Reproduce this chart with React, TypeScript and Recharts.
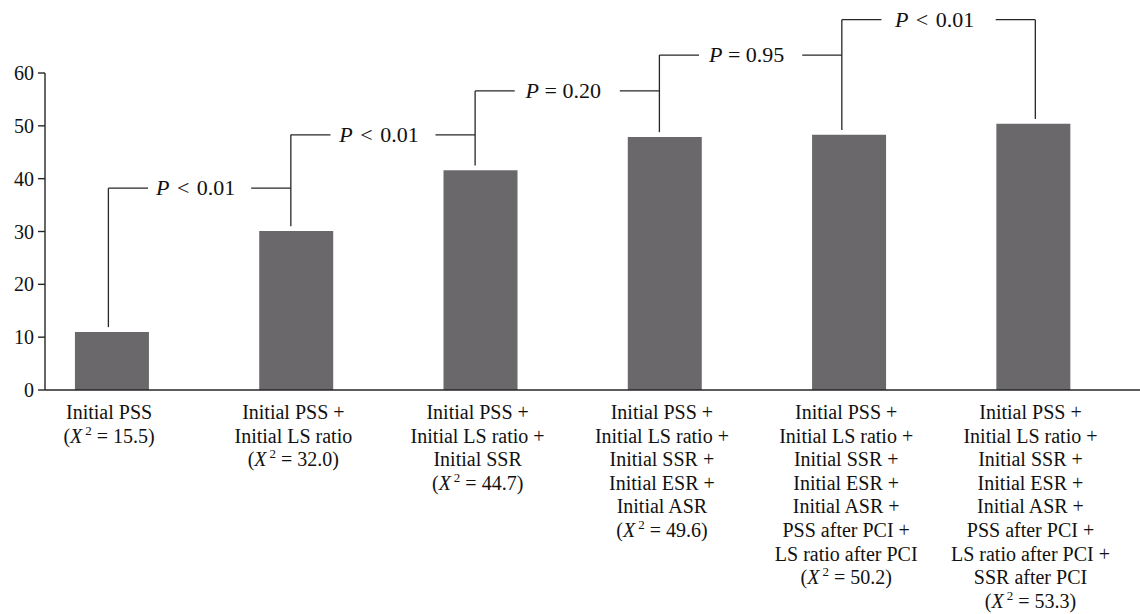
import React from "react";
import { ComposedChart, Bar, XAxis, YAxis, ReferenceLine, ReferenceDot } from "recharts";

const positions = [1, 2, 3, 4, 5, 6];
const values = [11.0, 30.1, 41.6, 47.9, 48.3, 50.4];
const chiSquares = ["15.5", "32.0", "44.7", "49.6", "50.2", "53.3"];
const categoryLines = [
  ["Initial PSS"],
  ["Initial PSS +", "Initial LS ratio"],
  ["Initial PSS +", "Initial LS ratio +", "Initial SSR"],
  ["Initial PSS +", "Initial LS ratio +", "Initial SSR +", "Initial ESR +", "Initial ASR"],
  ["Initial PSS +", "Initial LS ratio +", "Initial SSR +", "Initial ESR +", "Initial ASR +", "PSS after PCI +", "LS ratio after PCI"],
  ["Initial PSS +", "Initial LS ratio +", "Initial SSR +", "Initial ESR +", "Initial ASR +", "PSS after PCI +", "LS ratio after PCI +", "SSR after PCI"],
];
const yTicks = [0, 10, 20, 30, 40, 50, 60];
const bracketX = [0.98, 1.97, 2.97, 3.97, 4.96, 6.01];
const bracketLevels = [38.2, 48.3, 56.6, 63.4, 70.1];
const pOps = ["<", "<", "=", "=", "<"];
const pValues = ["0.01", "0.01", "0.20", "0.95", "0.01"];

const data = positions.map((x, i) => ({ x, value: values[i] }));

const FONT = '"Liberation Serif", "Times New Roman", Times, serif';
const LINE = "#262626";
const ARM = 0.215;
const GAP = 0.9;
const LH = 23.6;

const CatTick = (props: any) => {
  const { x, y, payload } = props;
  const idx = positions.indexOf(payload.value);
  if (idx < 0) return null;
  const lines = categoryLines[idx];
  const base = y + 21;
  return (
    <g>
      {lines.map((t, k) => (
        <text key={k} x={x - 3} y={base + k * LH} textAnchor="middle" fontFamily={FONT} fontSize={20} fill="#111">
          {t}
        </text>
      ))}
      <text x={x - 3} y={base + lines.length * LH} textAnchor="middle" fontFamily={FONT} fontSize={20} fill="#111">
        <tspan>(</tspan>
        <tspan fontStyle="italic">X</tspan>
        <tspan fontSize={13} dy={-8} dx={3}>2</tspan>
        <tspan dy={8}>{" = " + chiSquares[idx] + ")"}</tspan>
      </text>
    </g>
  );
};

const PShape = (props: any) => {
  const { cx, cy, op, val } = props;
  const extra = op === "<" ? 2 : 0;
  return (
    <text x={cx - 4} y={cy + 7} textAnchor="middle" fontFamily={FONT} fontSize={22} fill="#111">
      <tspan fontStyle="italic">P</tspan>
      <tspan dx={extra}>{" " + op}</tspan>
      <tspan dx={extra}>{" " + val}</tspan>
    </text>
  );
};

export default function App() {
  const segs: { a: any; b: any }[] = [];
  positions.forEach((_, i) => {
    const tops: number[] = [];
    if (i < bracketLevels.length) tops.push(bracketLevels[i]);
    if (i > 0) tops.push(bracketLevels[i - 1]);
    segs.push({ a: { x: bracketX[i], y: values[i] + GAP }, b: { x: bracketX[i], y: Math.max(...tops) } });
  });
  bracketLevels.forEach((L, j) => {
    segs.push({ a: { x: bracketX[j], y: L }, b: { x: bracketX[j] + ARM, y: L } });
    segs.push({ a: { x: bracketX[j + 1] - ARM, y: L }, b: { x: bracketX[j + 1], y: L } });
  });

  return (
    <div style={{ position: "absolute", left: 0, top: 0, width: 1140, height: 614, background: "#fff" }}>
      <ComposedChart width={1140} height={614} data={data} margin={{ top: 73, right: 0, bottom: 0, left: 0 }}>
        <XAxis
          dataKey="x"
          type="number"
          domain={[0.636, 6.578]}
          ticks={positions}
          allowDataOverflow
          tickLine={false}
          height={224}
          interval={0}
          stroke={LINE}
          strokeWidth={1.4}
          tick={<CatTick />}
        />
        <YAxis
          type="number"
          domain={[0, 60]}
          ticks={yTicks}
          width={45}
          tickSize={7}
          tickMargin={4}
          stroke={LINE}
          strokeWidth={1.4}
          tick={{ fontFamily: FONT, fontSize: 20, fill: "#111" }}
        />
        <Bar dataKey="value" fill="#6a686b" barSize={74} isAnimationActive={false} />
        {segs.map((s, k) => (
          <ReferenceLine key={"s" + k} segment={[s.a, s.b]} stroke={LINE} strokeWidth={1.3} ifOverflow="visible" />
        ))}
        {bracketLevels.map((L, j) => (
          <ReferenceDot
            key={"p" + j}
            x={(bracketX[j] + bracketX[j + 1]) / 2}
            y={L}
            r={0}
            ifOverflow="visible"
            shape={(p: any) => <PShape {...p} op={pOps[j]} val={pValues[j]} />}
          />
        ))}
      </ComposedChart>
    </div>
  );
}
